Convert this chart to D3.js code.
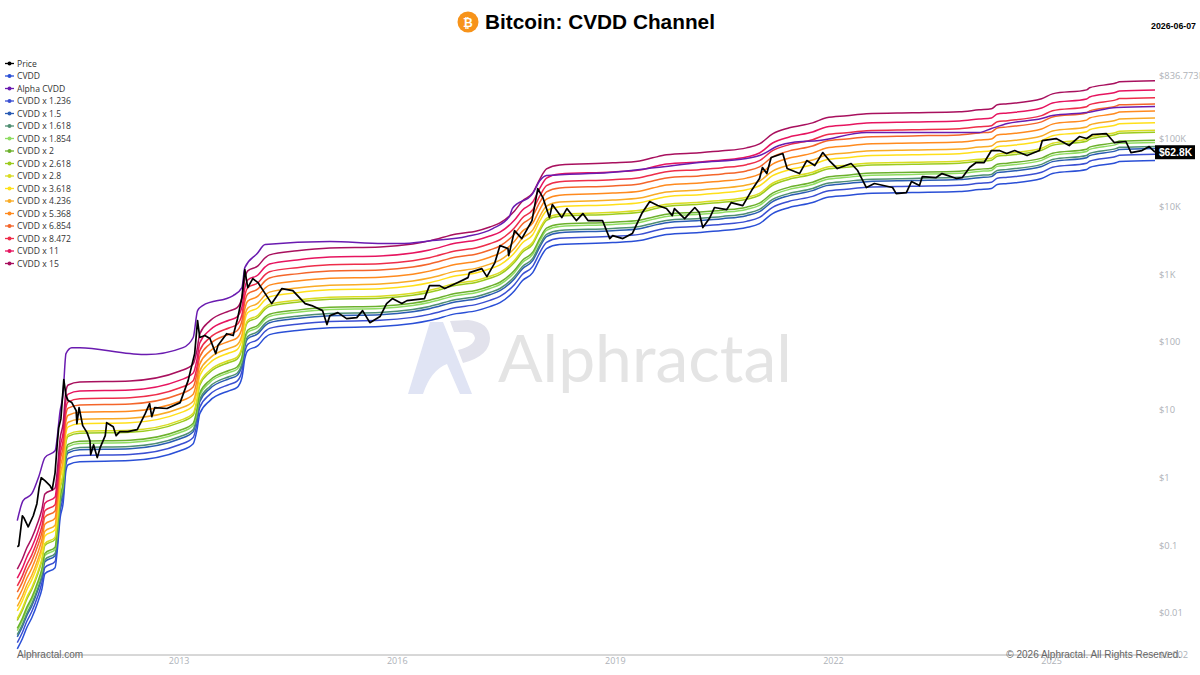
<!DOCTYPE html>
<html>
<head>
<meta charset="utf-8">
<title>Bitcoin: CVDD Channel</title>
<script src="https://cdn.jsdelivr.net/npm/d3@7"></script>
<style>
    html, body { margin: 0; padding: 0; background: #fff; }
    svg { display: block; }
</style>
</head>
<body>
<div id="chart-area"></div>
<script>
var cvddYears = [2010.78,2010.85,2010.91,2010.98,2011.06,2011.12,2011.16,2011.30,2011.33,2011.37,2011.41,2011.45,2011.48,2011.64,2012.33,2013.02,2013.20,2013.25,2013.29,2013.43,2013.70,2013.80,2013.87,2013.91,2013.95,2014.09,2014.19,2014.25,2014.63,2015.08,2015.77,2016.22,2016.45,2016.82,2017.10,2017.28,2017.42,2017.62,2017.73,2017.87,2017.97,2018.06,2018.24,2018.97,2019.34,2019.52,2019.71,2020.16,2020.48,2020.81,2020.99,2021.17,2021.40,2021.72,2021.91,2022.19,2022.46,2023.09,2023.74,2024.01,2024.18,2024.26,2024.40,2024.87,2025.02,2025.49,2025.53,2025.90,2025.94,2026.43];
var cvddValues = [0.00296,0.00417,0.00605,0.0085,0.01416,0.0228,0.0379,0.0466,0.083,0.2547,0.41,1.26,1.54,1.71,1.77,2.48,3.15,4.9,8.73,13.6,19.1,21.1,29.6,56.6,74.3,88.1,116,128,147,162,168,186,206,261,289,331,379,570,802,1052,1694,2377,2723,2917,3119,3459,3828,4102,4385,4853,5559,7816,9594,11350,13460,14420,15420,15960,16520,17660,18280,20940,21680,25700,30410,34830,37330,44260,45810,47320];

var alphaYears = [2010.78,2010.86,2010.98,2011.08,2011.16,2011.30,2011.37,2011.41,2011.45,2011.53,2011.64,2012.33,2012.56,2013.06,2013.20,2013.26,2013.33,2013.75,2013.87,2013.91,2014.08,2014.19,2015.08,2015.81,2016.04,2016.49,2016.96,2017.32,2017.55,2017.59,2017.87,2017.97,2018.06,2018.93,2019.57,2020.16,2020.81,2020.99,2021.26,2021.44,2021.81,2022.46,2024.01,2024.18,2024.40,2024.87,2025.02,2025.49,2025.90,2026.43];
var alphaValues = [0.23,0.454,0.575,1.06,1.96,2.48,9.66,17.2,67.1,82.2,82.2,67.1,64.9,82.2,116,289,343,482,632,1247,2009,2723,3020,2818,2818,3119,3581,4699,7063,9268,15420,23990,28440,31480,37330,44260,50700,56100,78900,87300,93400,122700,122700,140600,166400,197300,218000,242100,287100,296500];

var priceYears = [2010.78,2010.80,2010.83,2010.85,2010.87,2010.93,2011.00,2011.05,2011.08,2011.11,2011.16,2011.23,2011.26,2011.30,2011.33,2011.35,2011.38,2011.42,2011.45,2011.48,2011.53,2011.59,2011.60,2011.63,2011.68,2011.74,2011.78,2011.79,2011.83,2011.88,2011.92,2011.99,2012.01,2012.10,2012.14,2012.19,2012.30,2012.43,2012.54,2012.60,2012.63,2012.67,2012.84,2013.02,2013.13,2013.22,2013.26,2013.29,2013.36,2013.43,2013.51,2013.54,2013.66,2013.75,2013.81,2013.87,2013.91,2013.95,2014.02,2014.09,2014.19,2014.28,2014.42,2014.57,2014.74,2014.83,2014.98,2015.04,2015.08,2015.19,2015.31,2015.45,2015.53,2015.63,2015.77,2015.86,2015.94,2016.07,2016.14,2016.38,2016.45,2016.59,2016.66,2016.84,2016.98,2017.00,2017.17,2017.24,2017.35,2017.42,2017.53,2017.54,2017.62,2017.72,2017.86,2017.94,2018.01,2018.10,2018.14,2018.27,2018.34,2018.47,2018.56,2018.63,2018.83,2018.93,2018.97,2019.11,2019.24,2019.37,2019.48,2019.59,2019.71,2019.79,2019.82,2019.96,2020.10,2020.16,2020.21,2020.30,2020.37,2020.54,2020.60,2020.76,2020.88,2020.99,2021.03,2021.09,2021.15,2021.31,2021.37,2021.54,2021.64,2021.75,2021.86,2021.95,2022.06,2022.25,2022.34,2022.46,2022.57,2022.82,2022.87,2023.01,2023.08,2023.19,2023.23,2023.42,2023.50,2023.70,2023.78,2023.88,2023.97,2024.08,2024.18,2024.29,2024.39,2024.50,2024.67,2024.84,2024.88,2025.07,2025.25,2025.39,2025.49,2025.57,2025.76,2025.87,2026.03,2026.10,2026.25,2026.35,2026.43];
var priceValues = [0.095,0.098,0.181,0.272,0.255,0.187,0.272,0.41,0.706,0.99,0.895,0.755,0.659,1.17,3.15,5.42,7.36,27.7,16.1,13.6,12.7,9.66,6.21,10.7,5.81,4.58,3.48,2.17,3.04,1.96,2.75,4.13,6.43,5.61,4.13,4.73,4.73,5.07,8.73,12.3,7.89,10.7,10.4,12.7,26.8,67.1,206,116,124,112,67.1,88.1,132,124,220,450,1164,632,859,750,515,367,611,570,367,343,289,180,244,270,220,228,289,192,236,367,435,367,406,435,676,676,611,750,887,1052,1205,918,1479,2636,2377,1875,4385,3342,6166,18280,13460,6823,10620,6823,9268,6166,7816,6166,6166,3342,3698,3342,3963,7816,11750,10260,9268,7295,9268,6592,9594,8091,4853,6592,9594,8954,11350,10260,17060,25700,37330,30410,52480,60100,36060,30410,47320,39900,62100,47320,36060,42760,33730,18920,21680,18920,15420,15960,23170,20230,27480,26550,30410,25700,26550,37330,44260,44260,66500,66500,60100,66500,56100,66500,93400,100000,78900,107000,100000,114600,118500,87300,90400,62100,66500,76200,62800];

var multipliers = [1, 1.236, 1.5, 1.618, 1.854, 2, 2.618, 2.8, 3.618, 4.236, 5.368, 6.854, 8.472, 11, 15];
var multiplierNames = ["CVDD", "CVDD x 1.236", "CVDD x 1.5", "CVDD x 1.618", "CVDD x 1.854", "CVDD x 2", "CVDD x 2.618", "CVDD x 2.8", "CVDD x 3.618", "CVDD x 4.236", "CVDD x 5.368", "CVDD x 6.854", "CVDD x 8.472", "CVDD x 11", "CVDD x 15"];
var multiplierColors = ["#2a4fd6", "#3a4fd2", "#2b5cb4", "#4f8f72", "#8fdc62", "#6cb02c", "#9ccb1e", "#d9dc22", "#ffe01a", "#f9ab25", "#ff8a1e", "#f4652a", "#ee2d4a", "#e6145f", "#a8105e"];

var legendNames = ["Price", "CVDD", "Alpha CVDD"].concat(multiplierNames.slice(1));
var legendColors = ["#000000", "#2a4fd6", "#6a1bb0"].concat(multiplierColors.slice(1));

var yTicks = [0.0024, 0.01, 0.1, 1, 10, 100, 1000, 10000, 100000, 836773];
var yTickLabels = ["$0.002", "$0.01", "$0.1", "$1", "$10", "$100", "$1K", "$10K", "$100K", "$836.773K"];
var xTicks = [2013, 2016, 2019, 2022, 2025];

var width = 1200, height = 675;

var svg = d3.select("#chart-area").append("svg")
    .attr("width", width)
    .attr("height", height);

var x = d3.scaleLinear().domain([2010.79, 2026.43]).range([18, 1155]);
var y = d3.scaleLog().domain([0.0024, 836773]).range([655, 76]);

// watermark
var wm = svg.append("g");
wm.append("path")
    .attr("d", "M408,394 L430,322 L443,322 L472,394 L460,394 L447,364 Q431,370 423,394 Z")
    .attr("fill", "#e0e4f4");
wm.append("path")
    .attr("d", "M450,321 L468,320 Q489,322 490,338 Q490,356 463,363 L458,350 Q474,346 475,338 Q474,332 467,332 L454,332 Z")
    .attr("fill", "#e2e2ec");
wm.append("text")
    .attr("x", 498).attr("y", 382)
    .attr("font-family", "Lato, 'Open Sans', sans-serif")
    .attr("font-size", 66)
    .attr("fill", "#e4e4e4")
    .text("Alphractal");

// baseline
svg.append("line")
    .attr("x1", 18).attr("x2", 1155)
    .attr("y1", y(0.0024)).attr("y2", y(0.0024))
    .attr("stroke", "#b0b0b0");

var line = d3.line()
    .x(function (d) { return x(d[0]); })
    .y(function (d) { return y(d[1]); })
    .curve(d3.curveMonotoneX);

function drawSeries(years, values, color, width) {
    svg.append("path")
        .datum(d3.zip(years, values))
        .attr("fill", "none")
        .attr("stroke", color)
        .attr("stroke-width", width)
        .attr("stroke-linejoin", "round")
        .attr("d", line);
}

multipliers.forEach(function (m, i) {
    drawSeries(cvddYears, cvddValues.map(function (v) { return v * m; }), multiplierColors[i], 1.5);
});
drawSeries(alphaYears, alphaValues, "#6a1bb0", 1.5);

line.curve(d3.curveLinear);
drawSeries(priceYears, priceValues, "#000000", 1.7);

// axes
var yAxis = svg.append("g")
    .attr("transform", "translate(1155,0)")
    .call(d3.axisRight(y)
        .tickValues(yTicks)
        .tickSize(0)
        .tickPadding(4)
        .tickFormat(function (d, i) { return yTickLabels[i]; }));
yAxis.select(".domain").remove();
yAxis.selectAll("text")
    .attr("font-family", "'Open Sans', sans-serif")
    .attr("font-size", 9.3)
    .attr("fill", "#aeb2b8");

var xAxis = svg.append("g")
    .attr("transform", "translate(0,655)")
    .call(d3.axisBottom(x)
        .tickValues(xTicks)
        .tickSize(0)
        .tickPadding(3)
        .tickFormat(d3.format("d")));
xAxis.select(".domain").remove();
xAxis.selectAll("text")
    .attr("font-family", "'Open Sans', sans-serif")
    .attr("font-size", 9)
    .attr("fill", "#aeb2b8");

// last price tag
var lastPrice = priceValues[priceValues.length - 1];
svg.append("rect")
    .attr("x", 1155).attr("y", y(lastPrice) - 7)
    .attr("width", 40).attr("height", 14)
    .attr("fill", "#000");
svg.append("text")
    .attr("x", 1175.5).attr("y", y(lastPrice) + 3.5)
    .attr("text-anchor", "middle")
    .attr("font-family", "'Liberation Sans', Arial, sans-serif")
    .attr("font-weight", "bold")
    .attr("font-size", 10.3)
    .attr("fill", "#fff")
    .text("$62.8K");

// legend
var legend = svg.selectAll(".legend-item")
    .data(legendNames)
    .enter().append("g")
    .attr("class", "legend-item")
    .attr("transform", function (d, i) { return "translate(0," + (63.5 + i * 12.5) + ")"; });
legend.append("line")
    .attr("x1", 5).attr("x2", 14)
    .attr("stroke", function (d, i) { return legendColors[i]; })
    .attr("stroke-width", 1.3);
legend.append("circle")
    .attr("cx", 9.5).attr("r", 2)
    .attr("fill", function (d, i) { return legendColors[i]; });
legend.append("text")
    .attr("x", 17).attr("y", 3)
    .attr("font-family", "'Open Sans', sans-serif")
    .attr("font-size", 8.6)
    .attr("fill", "#333")
    .text(function (d) { return d; });

// title
svg.append("circle").attr("cx", 468).attr("cy", 22).attr("r", 10.5).attr("fill", "#f7931a");
svg.append("text")
    .attr("x", 468).attr("y", 26.5)
    .attr("text-anchor", "middle")
    .attr("font-family", "'DejaVu Sans', sans-serif")
    .attr("font-weight", "bold")
    .attr("font-size", 12)
    .attr("fill", "#fff")
    .text("₿");
svg.append("text")
    .attr("x", 485).attr("y", 29)
    .attr("font-family", "'Liberation Sans', Arial, sans-serif")
    .attr("font-weight", "bold")
    .attr("font-size", 20.8)
    .attr("fill", "#000")
    .text("Bitcoin: CVDD Channel");
svg.append("text")
    .attr("x", 1196).attr("y", 29)
    .attr("text-anchor", "end")
    .attr("font-family", "'Liberation Sans', Arial, sans-serif")
    .attr("font-weight", "bold")
    .attr("font-size", 8.8)
    .attr("fill", "#000")
    .text("2026-06-07");

// footer
svg.append("text")
    .attr("x", 17).attr("y", 658)
    .attr("font-family", "'Liberation Sans', Arial, sans-serif")
    .attr("font-size", 10)
    .attr("fill", "#666")
    .text("Alphractal.com");
svg.append("text")
    .attr("x", 1181).attr("y", 658)
    .attr("text-anchor", "end")
    .attr("font-family", "'Liberation Sans', Arial, sans-serif")
    .attr("font-size", 10)
    .attr("fill", "#666")
    .text("© 2026 Alphractal. All Rights Reserved.");
</script>
</body>
</html>
